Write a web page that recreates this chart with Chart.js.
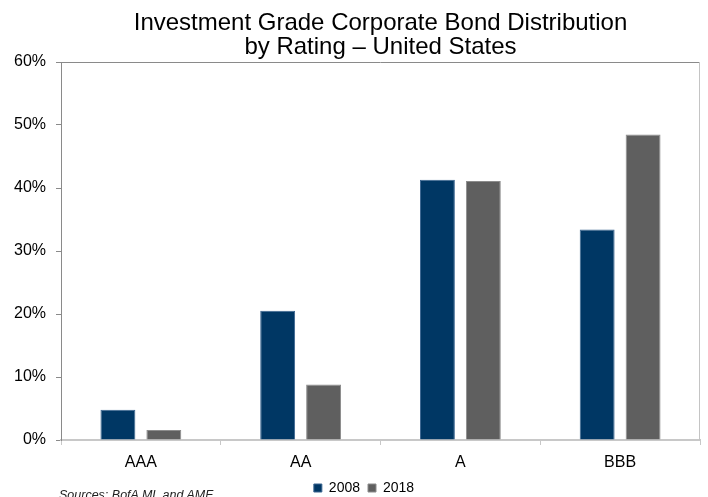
<!DOCTYPE html>
<html>
<head>
<meta charset="utf-8">
<title>Investment Grade Corporate Bond Distribution</title>
<script src="https://cdn.jsdelivr.net/npm/chart.js@4.4.0/dist/chart.umd.min.js"></script>
<style>
  html, body { margin: 0; padding: 0; background: #fff; }
  #wrap { position: relative; width: 708px; height: 497px; overflow: hidden; }
  #source {
    position: absolute; left: 59px; top: 488px;
    font: italic 12.5px "Liberation Sans", Arial, sans-serif;
    color: #222; white-space: nowrap;
  }
</style>
</head>
<body>
<div id="wrap">
  <canvas id="myChart" width="708" height="497"></canvas>
  <div id="source">Sources: BofA ML and AMF</div>
</div>
<script>
// share of IG bonds by rating, in percent
const ratings = ['AAA', 'AA', 'A', 'BBB'];
const share2008 = [4.8, 20.5, 41.3, 33.4];
const share2018 = [1.6, 8.8, 41.1, 48.5];
const yTicks = [0, 10, 20, 30, 40, 50, 60];

const FONT = '"Liberation Sans", Arial, sans-serif';

// top / right frame lines, and nudges for title + legend placement
const framePlugin = {
    id: 'frame',
    afterLayout(chart) {
        const area = chart.chartArea;
        if (chart.titleBlock) {
            chart.titleBlock.left = area.left;
            chart.titleBlock.right = area.right;
        }
        if (chart.legend) {
            const dy = 473 - chart.legend.top;
            chart.legend.top += dy;
            chart.legend.bottom += dy;
            chart.legend.left += 14;
            chart.legend.right += 14;
        }
    },
    beforeDatasetsDraw(chart) {
        const {ctx, chartArea: a} = chart;
        ctx.save();
        ctx.lineWidth = 1;
        ctx.strokeStyle = '#8a8a8a';
        ctx.beginPath();
        ctx.moveTo(a.left, a.top + 0.5);
        ctx.lineTo(a.right, a.top + 0.5);
        ctx.stroke();
        ctx.strokeStyle = '#c4c4c4';
        ctx.beginPath();
        ctx.moveTo(a.right - 0.5, a.top);
        ctx.lineTo(a.right - 0.5, a.bottom);
        ctx.stroke();
        ctx.restore();
    }
};

const ctx = document.getElementById('myChart').getContext('2d');
new Chart(ctx, {
    type: 'bar',
    data: {
        labels: ratings,
        datasets: [{
            label: '2008',
            data: share2008,
            backgroundColor: '#003764',
            borderColor: '#3a6590',
            borderWidth: 1,
            categoryPercentage: 0.575,
            barPercentage: 0.76
        }, {
            label: '2018',
            data: share2018,
            backgroundColor: '#5f5f5f',
            borderColor: '#8c8c8c',
            borderWidth: 1,
            categoryPercentage: 0.575,
            barPercentage: 0.76
        }]
    },
    options: {
        responsive: false,
        animation: false,
        layout: { padding: { left: 0, right: 8, top: 0, bottom: -8 } },
        plugins: {
            title: {
                display: true,
                text: ['Investment Grade Corporate Bond Distribution', 'by Rating \u2013 United States'],
                color: '#000',
                font: { family: FONT, size: 24, weight: 'normal', lineHeight: 1.0 },
                padding: { top: 11, bottom: 3 }
            },
            legend: {
                position: 'bottom',
                labels: {
                    color: '#000',
                    font: { family: FONT, size: 14 },
                    boxWidth: 8,
                    boxHeight: 8,
                    padding: 8
                }
            },
            tooltip: { enabled: false }
        },
        scales: {
            x: {
                grid: {
                    drawOnChartArea: false,
                    color: '#c8c8c8',
                    tickLength: 5,
                    offset: true
                },
                border: { color: '#c8c8c8', width: 2 },
                ticks: {
                    color: '#000',
                    font: { family: FONT, size: 16 },
                    padding: 8
                },
                afterFit(scale) { scale.height = 33; }
            },
            y: {
                min: 0,
                max: 60,
                afterBuildTicks(scale) {
                    scale.ticks = yTicks.map(v => ({ value: v }));
                },
                grid: {
                    drawOnChartArea: false,
                    color: '#8a8a8a',
                    tickLength: 5
                },
                border: { color: '#8a8a8a', width: 1 },
                ticks: {
                    color: '#000',
                    font: { family: FONT, size: 16 },
                    padding: 10,
                    callback: v => v + '%'
                },
                afterFit(scale) { scale.width = 61; }
            }
        }
    },
    plugins: [framePlugin]
});
</script>
</body>
</html>
